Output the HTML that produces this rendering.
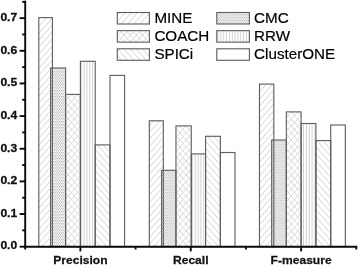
<!DOCTYPE html>
<html><head><meta charset="utf-8"><title>chart</title>
<style>
html,body{margin:0;padding:0;background:#fff;}
body{width:358px;height:265px;overflow:hidden;}
svg{display:block;}
text{font-family:"Liberation Sans",Arial,sans-serif;fill:#111;}
.b{font-weight:bold;font-size:11px;stroke:#111;stroke-width:0.3px;}
.x{font-weight:bold;font-size:11.6px;stroke:#111;stroke-width:0.25px;}
svg{filter:grayscale(1);}
.l{font-size:15.2px;fill:#000;stroke:#000;stroke-width:0.2px;}
</style></head><body>
<svg width="358" height="265" viewBox="0 0 358 265">
<defs>
<pattern id="mine" width="6.2" height="7.0" patternUnits="userSpaceOnUse"><path d="M-6.2 14.0L12.4 -7.0M-12.4 14.0L6.2 -7.0M0 14.0L18.6 -7.0" stroke="#c2c2c2" stroke-width="0.75" fill="none"/></pattern>
<pattern id="spici" width="6.2" height="7.0" patternUnits="userSpaceOnUse"><path d="M-6.2 -7.0L12.4 14.0M-12.4 -7.0L6.2 14.0M0 -7.0L18.6 14.0" stroke="#c2c2c2" stroke-width="0.75" fill="none"/></pattern>
<pattern id="coach" width="6.2" height="7.0" patternUnits="userSpaceOnUse"><path d="M-6.2 14.0L12.4 -7.0M-12.4 14.0L6.2 -7.0M0 14.0L18.6 -7.0M-6.2 -7.0L12.4 14.0M-12.4 -7.0L6.2 14.0M0 -7.0L18.6 14.0" stroke="#c8c8c8" stroke-width="0.7" fill="none"/></pattern>
<pattern id="cmc" x="0" y="0" width="2.04" height="3.1" patternUnits="userSpaceOnUse"><rect x="0" y="0" width="1.02" height="1.3" fill="#b6b6b6"/><rect x="1.02" y="1.55" width="1.02" height="1.3" fill="#b6b6b6"/></pattern>
<pattern id="rrw" width="2.85" height="8" patternUnits="userSpaceOnUse"><path d="M1.4 0V8" stroke="#c6c6c6" stroke-width="0.8" fill="none"/></pattern>
<pattern id="clus" width="8" height="8" patternUnits="userSpaceOnUse"></pattern>
</defs>
<rect width="358" height="265" fill="#fff"/>

<rect x="38.80" y="17.60" width="13.60" height="229.10" fill="url(#mine)"/>
<rect x="50.60" y="68.00" width="15.00" height="178.70" fill="url(#cmc)"/>
<rect x="65.60" y="94.40" width="14.80" height="152.30" fill="url(#coach)"/>
<rect x="80.40" y="61.30" width="14.80" height="185.40" fill="url(#rrw)"/>
<rect x="95.20" y="144.90" width="14.80" height="101.80" fill="url(#spici)"/>
<rect x="38.80" y="17.60" width="13.60" height="229.10" fill="none" stroke="#5e5e5e" stroke-width="1.12"/>
<rect x="50.60" y="68.00" width="15.00" height="178.70" fill="none" stroke="#5e5e5e" stroke-width="1.12"/>
<rect x="65.60" y="94.40" width="14.80" height="152.30" fill="none" stroke="#5e5e5e" stroke-width="1.12"/>
<rect x="80.40" y="61.30" width="14.80" height="185.40" fill="none" stroke="#5e5e5e" stroke-width="1.12"/>
<rect x="95.20" y="144.90" width="14.80" height="101.80" fill="none" stroke="#5e5e5e" stroke-width="1.12"/>
<rect x="110.00" y="75.40" width="14.60" height="171.30" fill="none" stroke="#5e5e5e" stroke-width="1.12"/>
<rect x="149.31" y="120.80" width="14.00" height="125.90" fill="url(#mine)"/>
<rect x="161.61" y="170.30" width="14.35" height="76.40" fill="url(#cmc)"/>
<rect x="175.96" y="125.90" width="15.30" height="120.80" fill="url(#coach)"/>
<rect x="191.26" y="153.90" width="14.30" height="92.80" fill="url(#rrw)"/>
<rect x="205.56" y="136.30" width="14.80" height="110.40" fill="url(#spici)"/>
<rect x="149.31" y="120.80" width="14.00" height="125.90" fill="none" stroke="#5e5e5e" stroke-width="1.12"/>
<rect x="161.61" y="170.30" width="14.35" height="76.40" fill="none" stroke="#5e5e5e" stroke-width="1.12"/>
<rect x="175.96" y="125.90" width="15.30" height="120.80" fill="none" stroke="#5e5e5e" stroke-width="1.12"/>
<rect x="191.26" y="153.90" width="14.30" height="92.80" fill="none" stroke="#5e5e5e" stroke-width="1.12"/>
<rect x="205.56" y="136.30" width="14.80" height="110.40" fill="none" stroke="#5e5e5e" stroke-width="1.12"/>
<rect x="220.36" y="152.50" width="14.60" height="94.20" fill="none" stroke="#5e5e5e" stroke-width="1.12"/>
<rect x="259.47" y="84.10" width="14.35" height="162.60" fill="url(#mine)"/>
<rect x="271.67" y="140.00" width="14.65" height="106.70" fill="url(#cmc)"/>
<rect x="286.32" y="111.90" width="14.80" height="134.80" fill="url(#coach)"/>
<rect x="301.12" y="123.50" width="14.80" height="123.20" fill="url(#rrw)"/>
<rect x="315.92" y="140.60" width="14.80" height="106.10" fill="url(#spici)"/>
<rect x="259.47" y="84.10" width="14.35" height="162.60" fill="none" stroke="#5e5e5e" stroke-width="1.12"/>
<rect x="271.67" y="140.00" width="14.65" height="106.70" fill="none" stroke="#5e5e5e" stroke-width="1.12"/>
<rect x="286.32" y="111.90" width="14.80" height="134.80" fill="none" stroke="#5e5e5e" stroke-width="1.12"/>
<rect x="301.12" y="123.50" width="14.80" height="123.20" fill="none" stroke="#5e5e5e" stroke-width="1.12"/>
<rect x="315.92" y="140.60" width="14.80" height="106.10" fill="none" stroke="#5e5e5e" stroke-width="1.12"/>
<rect x="330.72" y="125.00" width="14.60" height="121.70" fill="none" stroke="#5e5e5e" stroke-width="1.12"/>
<g stroke="#0a0a0a" stroke-width="1.9" fill="none">
<path d="M25.2 0.7V249.5"/>
<path d="M24.3 246.7H357.2"/>
<path d="M19.6 246.70H25.2"/>
<path d="M22.2 230.38H25.2"/>
<path d="M19.6 214.05H25.2"/>
<path d="M22.2 197.72H25.2"/>
<path d="M19.6 181.40H25.2"/>
<path d="M22.2 165.07H25.2"/>
<path d="M19.6 148.75H25.2"/>
<path d="M22.2 132.42H25.2"/>
<path d="M19.6 116.10H25.2"/>
<path d="M22.2 99.77H25.2"/>
<path d="M19.6 83.45H25.2"/>
<path d="M22.2 67.12H25.2"/>
<path d="M19.6 50.80H25.2"/>
<path d="M22.2 34.47H25.2"/>
<path d="M19.6 18.15H25.2"/>
<path d="M22.2 1.82H25.2"/>
<path d="M80.38 246.7V251.4"/>
<path d="M135.56 246.7V249.5"/>
<path d="M190.74 246.7V251.4"/>
<path d="M245.92 246.7V249.5"/>
<path d="M301.10 246.7V251.4"/>
<path d="M356.28 246.7V249.5"/>
</g>
<text class="b" transform="translate(17.2 249.45) scale(1.1 1)" text-anchor="end">0.0</text>
<text class="b" transform="translate(17.2 216.80) scale(1.1 1)" text-anchor="end">0.1</text>
<text class="b" transform="translate(17.2 184.15) scale(1.1 1)" text-anchor="end">0.2</text>
<text class="b" transform="translate(17.2 151.50) scale(1.1 1)" text-anchor="end">0.3</text>
<text class="b" transform="translate(17.2 118.85) scale(1.1 1)" text-anchor="end">0.4</text>
<text class="b" transform="translate(17.2 86.20) scale(1.1 1)" text-anchor="end">0.5</text>
<text class="b" transform="translate(17.2 53.55) scale(1.1 1)" text-anchor="end">0.6</text>
<text class="b" transform="translate(17.2 20.90) scale(1.1 1)" text-anchor="end">0.7</text>
<text class="x" transform="translate(80.38 264) scale(1.04 1)" text-anchor="middle">Precision</text>
<text class="x" transform="translate(190.74 264) scale(1.04 1)" text-anchor="middle">Recall</text>
<text class="x" transform="translate(301.10 264) scale(1.04 1)" text-anchor="middle">F-measure</text>
<rect x="117.3" y="12.5" width="32.1" height="11.5" fill="url(#mine)" stroke="#5e5e5e" stroke-width="1.12"/>
<text class="l" x="154.40" y="23.10">MINE</text>
<rect x="117.3" y="30.65" width="32.1" height="11.5" fill="url(#coach)" stroke="#5e5e5e" stroke-width="1.12"/>
<text class="l" x="154.40" y="41.10">COACH</text>
<rect x="117.3" y="48.8" width="32.1" height="11.5" fill="url(#spici)" stroke="#5e5e5e" stroke-width="1.12"/>
<text class="l" x="154.40" y="59.10">SPICi</text>
<rect x="216.8" y="12.5" width="32.6" height="11.5" fill="url(#cmc)" stroke="#5e5e5e" stroke-width="1.12"/>
<text class="l" x="254.10" y="23.10">CMC</text>
<rect x="216.8" y="30.65" width="32.6" height="11.5" fill="url(#rrw)" stroke="#5e5e5e" stroke-width="1.12"/>
<text class="l" x="254.10" y="41.10">RRW</text>
<rect x="216.8" y="48.8" width="32.6" height="11.5" fill="none" stroke="#5e5e5e" stroke-width="1.12"/>
<text class="l" x="254.10" y="59.10">ClusterONE</text>
</svg></body></html>
